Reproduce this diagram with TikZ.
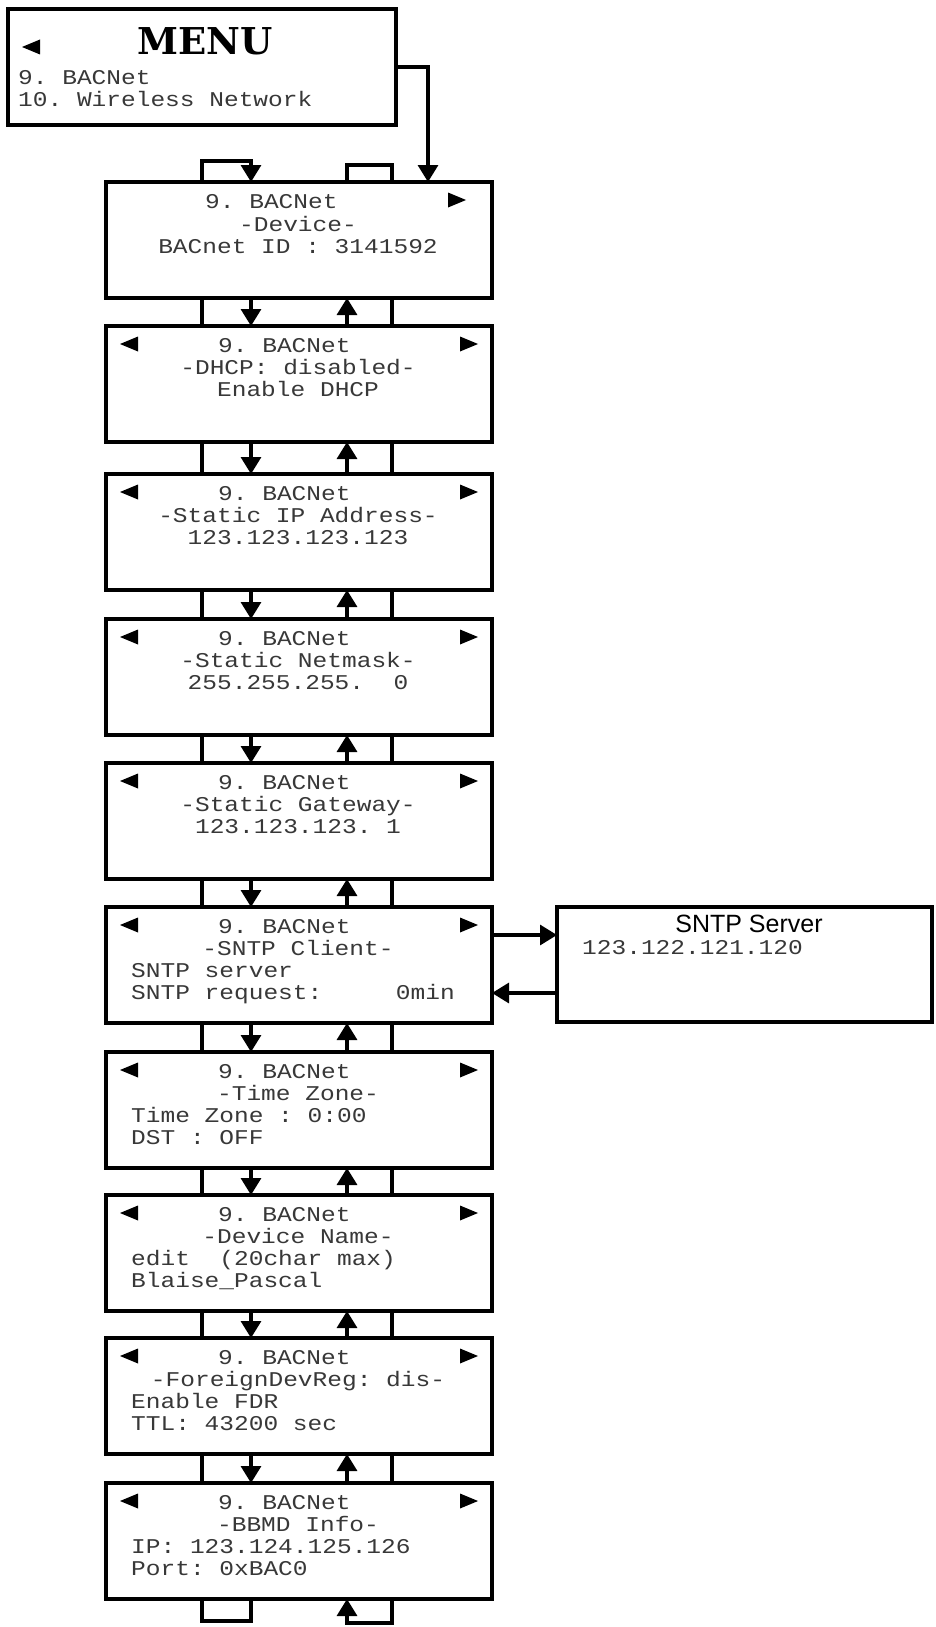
\documentclass[tikz,border=0pt]{standalone}
\usepackage{fontspec}
\usetikzlibrary{arrows.meta}
\newfontfamily\lcdfont[FakeStretch=1.167]{Liberation Mono}
\newfontfamily\menufont{DejaVu Serif}
\newfontfamily\srvfont{Liberation Sans}
\tikzset{
  scrbox/.style={draw, line width=3.1pt, minimum width=386pt, minimum height=116pt, inner sep=0pt, outer sep=0pt, anchor=north west},
  lcdt/.style={inner sep=0pt, text=black!78, font=\lcdfont\fontsize{21}{22}\selectfont},
  wire/.style={line width=3.2pt},
  flow/.style={wire, -{Triangle[width=20pt,length=17pt]}},
}
\newcommand{\lcdlefttri}[1]{\fill[shift={(#1.north west)}] (14,-18) -- (32,-10.5) -- (32,-25.5) -- cycle;}
\newcommand{\lcdrighttri}[1]{\fill[shift={(#1.north west)}] (372,-18) -- (354,-10.5) -- (354,-25.5) -- cycle;}
\newcommand{\lcdhead}[1]{\node[lcdt,anchor=base west] (#1h) at ([shift={(112,-26)}]#1.north west) {9.\ BACNet};}
\begin{document}
\begin{tikzpicture}[x=1pt,y=1pt]
\useasboundingbox (0,0) rectangle (935,-1627);
\fill[white] (0,0) rectangle (935,-1627);

% menu
\node[scrbox, minimum width=388pt] (menu) at (8,-9) {};
\fill[shift={(menu.north west)}] (14,-38) -- (32,-30.5) -- (32,-45.5) -- cycle;
\node[inner sep=0pt, font=\menufont\bfseries\fontsize{37}{37}\selectfont, anchor=base] (menut) at ([shift={(197,-46)}]menu.north west) {MENU};
\node[lcdt, anchor=base west] (menu1) at ([shift={(10,-76)}]menu.north west) {9.\ BACNet};
\node[lcdt, anchor=base west] (menu2) at ([shift={(10,-98)}]menu.north west) {10.\ Wireless\ Network};

% screens
\node[scrbox] (b1) at (106,-182) {};
\node[scrbox] (b2) at (106,-326) {};
\node[scrbox] (b3) at (106,-474) {};
\node[scrbox] (b4) at (106,-619) {};
\node[scrbox] (b5) at (106,-763) {};
\node[scrbox] (b6) at (106,-907) {};
\node[scrbox] (b7) at (106,-1052) {};
\node[scrbox] (b8) at (106,-1195) {};
\node[scrbox] (b9) at (106,-1338) {};
\node[scrbox] (b10) at (106,-1483) {};

% screen 1
\node[lcdt,anchor=base west] (b1h) at ([shift={(99,-26)}]b1.north west) {9.\ BACNet};
\fill[shift={(b1.north west)}] (360,-18) -- (342,-10.5) -- (342,-25.5) -- cycle;
\node[lcdt,anchor=base] (b1l2) at ([shift={(192,-49)}]b1.north west) {-Device-};
\node[lcdt,anchor=base] (b1l3) at ([shift={(192,-71)}]b1.north west) {BACnet\ ID\ :\ 3141592};

\foreach \b in {b2,b3,b4,b5,b6,b7,b8,b9,b10}{\lcdlefttri{\b}\lcdrighttri{\b}\lcdhead{\b}}

% screen 2
\node[lcdt,anchor=base] (b2l2) at ([shift={(192,-48)}]b2.north west) {-DHCP:\ disabled-};
\node[lcdt,anchor=base] (b2l3) at ([shift={(192,-70)}]b2.north west) {Enable\ DHCP};
% screen 3
\node[lcdt,anchor=base] (b3l2) at ([shift={(192,-48)}]b3.north west) {-Static\ IP\ Address-};
\node[lcdt,anchor=base] (b3l3) at ([shift={(192,-70)}]b3.north west) {123.123.123.123};
% screen 4
\node[lcdt,anchor=base] (b4l2) at ([shift={(192,-48)}]b4.north west) {-Static\ Netmask-};
\node[lcdt,anchor=base] (b4l3) at ([shift={(192,-70)}]b4.north west) {255.255.255.\ \ 0};
% screen 5
\node[lcdt,anchor=base] (b5l2) at ([shift={(192,-48)}]b5.north west) {-Static\ Gateway-};
\node[lcdt,anchor=base] (b5l3) at ([shift={(192,-70)}]b5.north west) {123.123.123.\ 1};
% screen 6
\node[lcdt,anchor=base] (b6l2) at ([shift={(192,-48)}]b6.north west) {-SNTP\ Client-};
\node[lcdt,anchor=base west] (b6l3) at ([shift={(25,-70)}]b6.north west) {SNTP\ server};
\node[lcdt,anchor=base west] (b6l4) at ([shift={(25,-92)}]b6.north west) {SNTP\ request:\ \ \ \ \ 0min};
% screen 7
\node[lcdt,anchor=base] (b7l2) at ([shift={(192,-48)}]b7.north west) {-Time\ Zone-};
\node[lcdt,anchor=base west] (b7l3) at ([shift={(25,-70)}]b7.north west) {Time\ Zone\ :\ 0:00};
\node[lcdt,anchor=base west] (b7l4) at ([shift={(25,-92)}]b7.north west) {DST\ :\ OFF};
% screen 8
\node[lcdt,anchor=base] (b8l2) at ([shift={(192,-48)}]b8.north west) {-Device\ Name-};
\node[lcdt,anchor=base west] (b8l3) at ([shift={(25,-70)}]b8.north west) {edit\ \ (20char\ max)};
\node[lcdt,anchor=base west] (b8l4) at ([shift={(25,-92)}]b8.north west) {Blaise\_Pascal};
% screen 9
\node[lcdt,anchor=base] (b9l2) at ([shift={(192,-48)}]b9.north west) {-ForeignDevReg:\ dis-};
\node[lcdt,anchor=base west] (b9l3) at ([shift={(25,-70)}]b9.north west) {Enable\ FDR};
\node[lcdt,anchor=base west] (b9l4) at ([shift={(25,-92)}]b9.north west) {TTL:\ 43200\ sec};
% screen 10
\node[lcdt,anchor=base] (b10l2) at ([shift={(192,-48)}]b10.north west) {-BBMD\ Info-};
\node[lcdt,anchor=base west] (b10l3) at ([shift={(25,-70)}]b10.north west) {IP:\ 123.124.125.126};
\node[lcdt,anchor=base west] (b10l4) at ([shift={(25,-92)}]b10.north west) {Port:\ 0xBAC0};

% SNTP server
\node[scrbox, minimum width=375pt, minimum height=115pt] (srv) at (557,-907) {};
\node[inner sep=0pt, font=\srvfont\fontsize{25}{25}\selectfont, anchor=base] (srvt) at ([shift={(192,-25)}]srv.north west) {SNTP Server};
\node[lcdt, anchor=base west] (srvip) at ([shift={(25,-47)}]srv.north west) {123.122.121.120};

% connectors
\coordinate (xl) at (202,0);
\coordinate (xd) at (251,0);
\coordinate (xu) at (347,0);
\coordinate (xr) at (392,0);
\coordinate (mx) at (428,0);
\coordinate (ya) at (0,-935);
\coordinate (yb) at (0,-993);

\draw[flow] (menu.east) -| (b1.north -| mx);
\draw[flow] (b1.north -| xl) -- ++(0,21) -| (b1.north -| xd);
\draw[wire] (b1.north -| xu) -- ++(0,17) -| (b1.north -| xr);

\foreach \a/\b in {b1/b2,b2/b3,b3/b4,b4/b5,b5/b6,b6/b7,b7/b8,b8/b9,b9/b10}{
  \draw[wire] (\a.south -| xl) -- (\b.north -| xl);
  \draw[flow] (\a.south -| xd) -- (\b.north -| xd);
  \draw[flow] (\b.north -| xu) -- (\a.south -| xu);
  \draw[wire] (\a.south -| xr) -- (\b.north -| xr);
}

\draw[wire] (b10.south -| xl) -- ++(0,-22) -| (b10.south -| xd);
\draw[flow] (b10.south -| xr) -- ++(0,-24) -| (b10.south -| xu);

\draw[flow] (b6.east |- ya) -- (srv.west |- ya);
\draw[flow] (srv.west |- yb) -- (b6.east |- yb);
\end{tikzpicture}
\end{document}
